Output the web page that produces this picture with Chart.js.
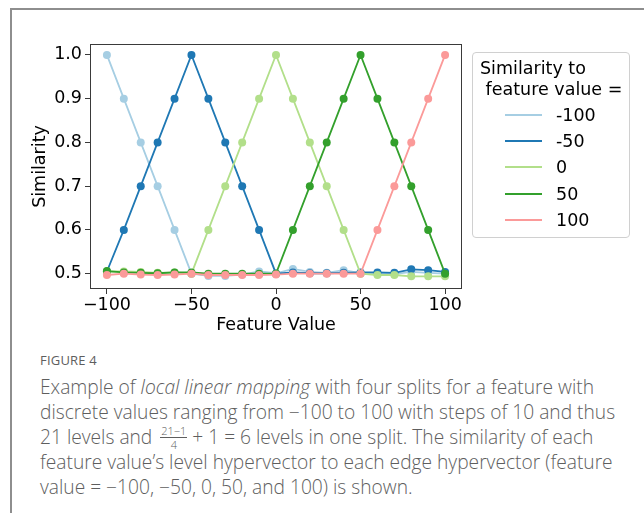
<!DOCTYPE html>
<html>
<head>
<meta charset="UTF-8">
<title>Figure 4</title>
<script src="https://cdn.jsdelivr.net/npm/chart.js"></script>
<style>
  body { margin: 0; width: 644px; height: 513px; overflow: hidden; background: #fff; position: relative; }
  #frame { position: absolute; left: 10px; top: 8px; width: 700px; height: 600px; border: 2px solid #8e8e8e; box-sizing: border-box; }
  #chart { position: absolute; left: 0; top: 0; }
  #legend {
    position: absolute; left: 472px; top: 52px; width: 158px; height: 186px;
    border: 1px solid #d0d0d0; border-radius: 4px; box-sizing: border-box;
    font-family: "DejaVu Sans", sans-serif; font-size: 17.5px; color: #000;
  }
  #legend .ttl { position: absolute; left: 7px; top: 5px; line-height: 21px; white-space: nowrap; }
  #legend .item { position: absolute; left: 32px; height: 20px; }
  #legend .item .ln { position: absolute; left: 0; top: 9px; width: 37px; height: 2px; }
  #legend .item .lb { position: absolute; left: 51px; top: 0; line-height: 20px; white-space: nowrap; }
  #cap { position: absolute; left: 40px; top: 352px; color: #5e5e5e; font-family: "Open Sans", sans-serif; }
  #cap .fig { font-size: 13px; line-height: 16px; letter-spacing: 0.2px; }
  #cap .txt { margin-top: 6px; font-size: 19.2px; font-weight: 300; line-height: 25px; white-space: nowrap; }
  .frac { display: inline-block; position: relative; width: 27px; height: 0; vertical-align: baseline; margin: 0 5px 0 3px; font-size: 11px; line-height: 11px; text-align: center; }
  .frac .num { position: absolute; left: 0; right: 0; bottom: 6px; border-bottom: 1px solid #5e5e5e; padding-bottom: 1px; }
  .frac .den { position: absolute; left: 0; right: 0; top: -5px; }
</style>
</head>
<body>
<div id="frame"></div>
<canvas id="chart" width="644" height="340"></canvas>
<div id="legend">
  <div class="ttl">Similarity to<br>&nbsp;feature value =</div>
</div>
<div id="cap">
  <div class="fig">FIGURE 4</div>
  <div class="txt">Example of <i>local linear mapping</i> with four splits for a feature with<br>discrete values ranging from −100 to 100 with steps of 10 and thus<br>21 levels and <span class="frac"><span class="num">21−1</span><span class="den">4</span></span>+ 1 = 6 levels in one split. The similarity of each<br>feature value’s level hypervector to each edge hypervector (feature<br>value = −100, −50, 0, 50, and 100) is shown.</div>
</div>
<script>
const featureValues = [-100, -90, -80, -70, -60, -50, -40, -30, -20, -10, 0, 10, 20, 30, 40, 50, 60, 70, 80, 90, 100];

const simM100 = [1.0, 0.9, 0.8, 0.7, 0.6, 0.5, 0.495, 0.495, 0.498, 0.505, 0.501, 0.511, 0.504, 0.502, 0.508, 0.501, 0.500, 0.499, 0.504, 0.502, 0.500];
const simM50  = [0.505, 0.6, 0.7, 0.8, 0.9, 1.0, 0.9, 0.8, 0.7, 0.6, 0.5, 0.503, 0.501, 0.501, 0.502, 0.503, 0.503, 0.502, 0.510, 0.508, 0.504];
const sim0    = [0.505, 0.505, 0.504, 0.502, 0.503, 0.5, 0.6, 0.7, 0.8, 0.9, 1.0, 0.9, 0.8, 0.7, 0.6, 0.5, 0.497, 0.497, 0.494, 0.494, 0.494];
const sim50   = [0.506, 0.503, 0.502, 0.501, 0.503, 0.503, 0.500, 0.500, 0.500, 0.500, 0.5, 0.6, 0.7, 0.8, 0.9, 1.0, 0.9, 0.8, 0.7, 0.6, 0.5];
const sim100  = [0.497, 0.500, 0.498, 0.497, 0.498, 0.500, 0.497, 0.497, 0.497, 0.497, 0.498, 0.500, 0.500, 0.500, 0.500, 0.5, 0.6, 0.7, 0.8, 0.9, 1.0];

const seriesNames = ['-100', '-50', '0', '50', '100'];
const seriesData = [simM100, simM50, sim0, sim50, sim100];
const seriesColors = ['#a6cee3', '#1f78b4', '#b2df8a', '#33a02c', '#fb9a99'];

const xTicks = [-100, -50, 0, 50, 100];
const xTickLabels = ['−100', '−50', '0', '50', '100'];
const yTicks = [0.5, 0.6, 0.7, 0.8, 0.9, 1.0];
const yTickLabels = ['0.5', '0.6', '0.7', '0.8', '0.9', '1.0'];

// legend drawn as html
const legend = document.getElementById('legend');
seriesNames.forEach(function(name, i) {
  const it = document.createElement('div');
  it.className = 'item';
  it.style.top = (52 + i * 26.2) + 'px';
  it.innerHTML = '<div class="ln" style="background:' + seriesColors[i] + '"></div><div class="lb">' + name + '</div>';
  legend.appendChild(it);
});

const framePlugin = {
  id: 'frame',
  afterDatasetsDraw(chart) {
    const a = chart.chartArea;
    const ctx = chart.ctx;
    ctx.save();
    ctx.strokeStyle = '#3a3a3a';
    ctx.lineWidth = 1;
    ctx.strokeRect(a.left + 0.5, a.top + 0.5, a.right - a.left - 1, a.bottom - a.top - 1);
    ctx.restore();
  }
};

const tickFont = { family: 'DejaVu Sans', size: 17.5 };
const titleFont = { family: 'DejaVu Sans', size: 17.5 };

new Chart(document.getElementById('chart'), {
  type: 'line',
  data: {
    datasets: seriesData.map(function(vals, i) {
      return {
        label: seriesNames[i],
        data: featureValues.map(function(x, j) { return { x: x, y: vals[j] }; }),
        borderColor: seriesColors[i],
        backgroundColor: seriesColors[i],
        borderWidth: 1.8,
        pointRadius: 4,
        pointBorderWidth: 0,
        pointHoverRadius: 4,
        tension: 0,
        order: seriesNames.length - i
      };
    })
  },
  options: {
    responsive: false,
    animation: false,
    devicePixelRatio: 1,
    layout: { padding: { left: 20, top: 44, right: 182, bottom: 0 } },
    plugins: { legend: { display: false }, tooltip: { enabled: false } },
    scales: {
      x: {
        type: 'linear', min: -110, max: 110,
        afterBuildTicks(s) { s.ticks = xTicks.map(function(v) { return { value: v }; }); },
        afterFit(s) { s.height = 51; },
        ticks: {
          callback: function(v, i) { return xTickLabels[i]; },
          font: tickFont, color: '#000', padding: 1, maxRotation: 0, autoSkip: false
        },
        grid: { drawOnChartArea: false, tickLength: 5, color: '#3a3a3a' },
        border: { display: false },
        title: { display: true, text: 'Feature Value', font: titleFont, color: '#000', padding: { top: 0, bottom: 4 } }
      },
      y: {
        type: 'linear', min: 0.465, max: 1.025,
        afterBuildTicks(s) { s.ticks = yTicks.map(function(v) { return { value: v }; }); },
        afterFit(s) { s.width = 70; },
        ticks: {
          callback: function(v, i) { return yTickLabels[i]; },
          font: tickFont, color: '#000', padding: 3, autoSkip: false
        },
        grid: { drawOnChartArea: false, tickLength: 5, color: '#3a3a3a' },
        border: { display: false },
        title: { display: true, text: 'Similarity', font: titleFont, color: '#000', padding: { top: 10, bottom: 0 } }
      }
    }
  },
  plugins: [framePlugin]
});
</script>
</body>
</html>
